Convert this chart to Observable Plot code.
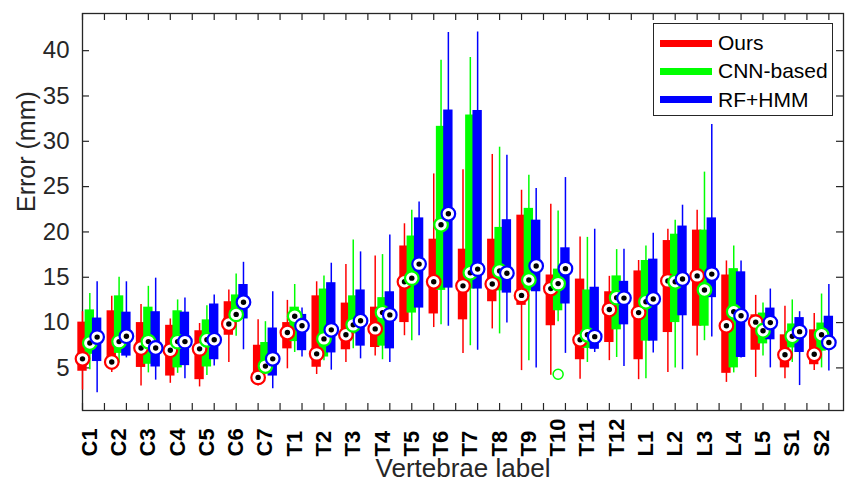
<!DOCTYPE html>
<html>
<head>
<meta charset="utf-8">
<script src="https://cdn.jsdelivr.net/npm/d3@7"></script>
<script src="https://cdn.jsdelivr.net/npm/@observablehq/plot@0.6"></script>
<style>
  html, body { margin: 0; padding: 0; background: #fff; }
  #wrap { position: relative; width: 846px; height: 483px; font-family: "Liberation Sans", Arial, sans-serif; }
  #legend { position: absolute; left: 653px; top: 23px; width: 180px; height: 93px; border: 1.3px solid #262626; background: #fff; box-sizing: border-box; }
  .item { position: absolute; left: 6px; height: 28px; display: flex; align-items: center; }
  .sw { width: 52px; height: 7px; margin-right: 6px; }
  .lbl { font-size: 21px; color: #000; }
</style>
</head>
<body>
<div id="wrap"><div id="chart"></div><div id="legend"></div></div>
<script>
const labels = ["C1","C2","C3","C4","C5","C6","C7","T1","T2","T3","T4","T5","T6","T7","T8","T9","T10","T11","T12","L1","L2","L3","L4","L5","S1","S2"];
const methods = ["Ours","CNN-based","RF+HMM"];
const colors = ["#ff0000","#00ff00","#0000ff"];
const yTicks = [5,10,15,20,25,30,35,40];

// [lower whisker, q1, median, q3, upper whisker]
const ours = [
  [2.55,4.63,6.0,10.05,11.2],[4.5,5.6,5.65,11.3,12.9],[3.0,5.05,7.2,10.0,12.0],[3.3,4.1,6.95,9.7,10.4],
  [2.9,3.7,7.1,9.1,9.9],[5.6,8.6,9.85,12.3,13.6],[3.0,3.5,3.95,7.5,10.3],[4.9,7.1,8.9,10.0,12.45],
  [4.27,5.07,6.55,12.95,14.5],[5.6,7.0,8.65,12.15,16.4],[6.3,7.25,9.3,11.7,17.35],[8.55,10.0,14.5,18.45,20.9],
  [9.45,10.95,14.5,19.2,26.4],[6.6,10.3,14.05,18.1,26.85],[9.3,12.3,14.25,19.2,28.55],[4.7,11.9,13.0,21.85,24.6],
  [4.2,9.65,13.75,15.25,23.05],[3.75,5.9,8.1,14.8,19.45],[5.8,7.8,11.45,13.4,15.1],[3.7,5.9,11.1,15.7,16.85],
  [4.5,8.9,14.6,19.05,20.3],[6.3,9.6,15.15,20.2,22.4],[3.4,4.4,9.65,15.25,16.8],[3.95,6.95,10.05,10.85,13.0],
  [3.8,5.0,6.45,8.65,11.8],[4.7,5.35,6.5,9.2,11.0]
];
const cnn = [
  [4.8,6.5,7.75,11.4,13.2],[5.55,6.6,7.9,12.95,15.0],[4.45,5.4,7.9,11.7,14.0],[4.4,5.0,7.9,11.3,12.5],
  [4.15,5.1,8.1,10.3,11.85],[8.5,10.3,10.9,13.05,15.35],[4.45,4.6,5.2,7.8,10.1],[6.7,7.9,10.7,11.7,14.2],
  [5.8,6.2,8.2,13.7,15.15],[7.1,8.75,9.75,12.95,19.1],[5.9,7.4,11.1,12.75,17.5],[8.0,11.05,14.9,19.55,22.4],
  [9.75,13.55,20.8,31.65,38.95],[7.45,13.7,15.5,32.9,39.25],[8.75,13.5,15.7,20.5,29.35],[5.8,13.5,14.7,22.6,26.25],
  [10.1,11.3,14.3,15.9,22.3],[5.6,7.15,8.65,13.6,19.4],[6.15,9.2,12.75,15.15,18.05],[3.8,7.95,12.3,16.85,18.45],
  [5.0,10.0,14.5,19.75,21.3],[8.0,9.6,13.6,20.2,26.6],[4.45,5.0,11.2,15.95,18.45],[6.3,7.65,9.1,11.05,12.15],
  [5.6,7.2,8.5,9.85,12.5],[5.0,6.85,8.65,9.95,13.15]
];
const rfhmm = [
  [2.25,5.7,8.4,10.5,14.5],[6.1,6.3,8.5,11.15,14.5],[3.65,5.1,7.2,11.2,14.9],[3.8,5.25,7.9,11.15,12.7],
  [5.2,5.9,8.1,12.05,13.05],[7.0,10.4,12.25,14.2,16.65],[2.7,4.1,6.0,9.4,13.4],[6.2,6.9,9.65,10.9,11.6],
  [4.75,6.65,9.2,14.4,16.55],[6.0,7.4,10.2,13.6,17.8],[5.6,7.1,10.85,13.4,19.65],[8.55,11.6,16.45,21.55,23.3],
  [9.6,13.8,22.0,33.45,42.0],[6.95,13.7,15.9,33.4,42.05],[9.95,13.25,15.45,21.35,28.45],[5.0,13.4,16.25,21.3,24.8],
  [6.6,12.05,15.95,18.25,26.0],[6.7,7.05,8.45,13.9,20.3],[5.15,9.75,12.7,14.55,18.1],[6.65,7.95,12.6,17.0,19.85],
  [4.8,10.75,14.8,20.65,22.95],[8.4,12.75,15.35,21.55,31.85],[6.1,6.15,10.75,15.6,16.8],[5.0,8.1,10.0,11.6,13.7],
  [3.05,6.7,9.0,10.55,11.2],[4.65,7.2,7.8,10.7,14.2]
];
// outliers: [label, method index, value]
const outliers = [["T10", 1, 4.3]];

const series = [ours, cnn, rfhmm];
const offsets = [-0.25, 0, 0.25];
const halfW = 0.16;

const rows = [];
series.forEach((arr, m) => arr.forEach((s, i) => rows.push({
  m, x: i + 1 + offsets[m], lo: s[0], q1: s[1], med: s[2], q3: s[3], hi: s[4]
})));
const outRows = outliers.map(([lab, m, v]) => ({x: labels.indexOf(lab) + 1 + offsets[m], v, m}));
const labelRows = labels.map((l, i) => ({x: i + 1, l}));
const xTicks = d3.range(1, 36).map(k => k * 0.75);

const W = 846, H = 483, mL = 82, mR = 3, mT = 13, mB = 73;
const pw = W - mL - mR, ph = H - mT - mB;
const axisColor = "#262626";

const marks = [
  Plot.frame({stroke: axisColor, strokeWidth: 1.3}),
  Plot.tickY(yTicks, {y: d => d, insetRight: pw - 7, stroke: axisColor, strokeWidth: 1.2}),
  Plot.tickY(yTicks, {y: d => d, insetLeft: pw - 7, stroke: axisColor, strokeWidth: 1.2}),
  Plot.tickX(xTicks, {x: d => d, insetBottom: ph - 7, stroke: axisColor, strokeWidth: 1.2}),
  Plot.tickX(xTicks, {x: d => d, insetTop: ph - 7, stroke: axisColor, strokeWidth: 1.2}),
  Plot.axisY({ticks: yTicks, tickSize: 0, tickPadding: 13, fontSize: 24}),
];
for (let m = 0; m < 3; m++) {
  const data = rows.filter(d => d.m === m);
  marks.push(Plot.ruleX(data, {x: "x", y1: "lo", y2: "hi", stroke: colors[m], strokeWidth: 1.5}));
  marks.push(Plot.rect(data, {x1: d => d.x - halfW, x2: d => d.x + halfW, y1: "q1", y2: "q3", fill: colors[m]}));
}
for (let m = 0; m < 3; m++) {
  const data = rows.filter(d => d.m === m);
  marks.push(Plot.dot(data, {x: "x", y: "med", r: 6.8, fill: "white", stroke: colors[m], strokeWidth: 2.2}));
  marks.push(Plot.dot(data, {x: "x", y: "med", r: 2.7, fill: "black", stroke: "none"}));
}
marks.push(Plot.dot(outRows, {x: "x", y: "v", r: 5, fill: "none", stroke: d => colors[d.m], strokeWidth: 1.5}));
marks.push(Plot.text(labelRows, {x: "x", text: "l", frameAnchor: "bottom", dy: 46, rotate: -90, textAnchor: "start", lineAnchor: "middle", fontSize: 22, fontWeight: "bold", fill: "#000"}));
marks.push(Plot.text(["Vertebrae label"], {frameAnchor: "bottom", dy: 58, fontSize: 26, fill: axisColor, lineAnchor: "middle"}));
marks.push(Plot.text(["Error (mm)"], {frameAnchor: "left", dx: -56, rotate: -90, fontSize: 25, fill: axisColor, lineAnchor: "middle"}));

const chart = Plot.plot({
  width: W, height: H,
  marginLeft: mL, marginRight: mR, marginTop: mT, marginBottom: mB,
  x: {type: "linear", domain: [0.75, 26.75], axis: null},
  y: {domain: [0.3, 44.1], axis: null},
  style: {fontFamily: "'Liberation Sans', Arial, sans-serif", color: axisColor, background: "white", overflow: "visible"},
  marks
});
document.getElementById("chart").appendChild(chart);

const legend = document.getElementById("legend");
methods.forEach((name, m) => {
  const it = document.createElement("div");
  it.className = "item";
  it.style.top = (5 + m * 28.3) + "px";
  it.innerHTML = `<div class="sw" style="background:${colors[m]}"></div><span class="lbl">${name}</span>`;
  legend.appendChild(it);
});
</script>
</body>
</html>
